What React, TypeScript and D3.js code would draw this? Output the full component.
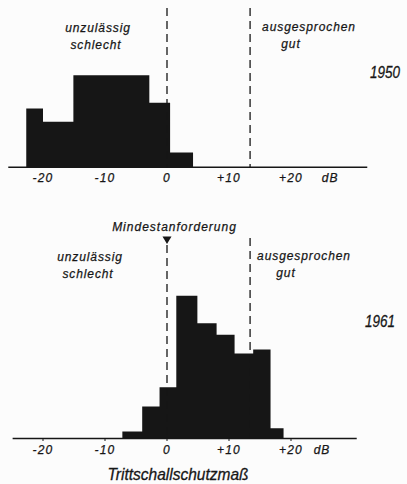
import React from "react";
import * as d3 from "d3";

// 1950 histogram: bin edges (dB) and share of cases (%)
const edges1950 = [-22.7, -20, -15.1, -2.85, 0.5, 4.2];
const values1950 = [9.2, 7.1, 14.4, 10.1, 2.3];

// 1961 histogram
const edges1961 = [-7.2, -4.0, -1.2, 1.5, 4.9, 8.0, 10.9, 13.9, 16.7, 18.8];
const values1961 = [1.1, 5.0, 8.0, 22.3, 18.0, 16.2, 13.3, 13.9, 1.6];

const tickValues = [-20, -10, 0, 10, 20];
const tickLabels = ["-20", "-10", "0", "+10", "+20"];
const unitLabel = "dB";
const minLine = 0; // Mindestanforderung
const goodLine = 13.4; // ausgesprochen gut

const W = 407;
const H = 484;
const FONT = "'Liberation Sans', Arial, sans-serif";
const INK = "#161616";

type PanelProps = {
  edges: number[];
  values: number[];
  baseY: number;
  axisFrom: number;
  axisTo: number;
  lineTop0: number;
  lineTop1: number;
  year: string;
  yearX: number;
  yearY: number;
  textLeftX: number;
  textRightX: number;
  textY: number;
  tickY: number;
  dBX: number;
  showTicks: boolean;
};

const x = d3.scaleLinear().domain([-20, 20]).range([43, 291]);

function Panel(p: PanelProps) {
  const y = d3.scaleLinear().domain([0, 25]).range([p.baseY, p.baseY - 160]);
  const pts: [number, number][] = p.edges.map((e, i) => [e, i < p.values.length ? p.values[i] : p.values[p.values.length - 1]]);
  const area = d3
    .area<[number, number]>()
    .x((d) => x(d[0]))
    .y0(y(0))
    .y1((d) => y(d[1]))
    .curve(d3.curveStepAfter);
  const lbl = {
    fontFamily: FONT,
    fontStyle: "italic",
    fontSize: 12,
    letterSpacing: 0.9,
    fill: INK,
    stroke: INK,
    strokeWidth: 0.25,
  } as const;
  return (
    <g>
      <path d={area(pts) || ""} fill={INK} />
      <line x1={x(p.axisFrom)} x2={x(p.axisTo)} y1={p.baseY} y2={p.baseY} stroke={INK} strokeWidth={1.6} />
      {p.showTicks &&
        tickValues.map((t) => (
          <line key={t} x1={x(t)} x2={x(t)} y1={p.baseY} y2={p.baseY + 2.5} stroke={INK} strokeWidth={1} />
        ))}
      <line x1={x(minLine)} x2={x(minLine)} y1={p.lineTop0} y2={p.baseY} stroke={INK} strokeWidth={1.3} strokeDasharray="8,5" />
      <line x1={x(goodLine)} x2={x(goodLine)} y1={p.lineTop1} y2={p.baseY} stroke={INK} strokeWidth={1.3} strokeDasharray="8,5" />
      {tickValues.map((t, i) => (
        <text key={t} x={x(t)} y={p.tickY} textAnchor="middle" {...lbl} letterSpacing={1.2}>
          {tickLabels[i]}
        </text>
      ))}
      <text x={x(p.dBX)} y={p.tickY} textAnchor="middle" {...lbl}>
        {unitLabel}
      </text>
      <text x={p.textLeftX} y={p.textY} textAnchor="middle" {...lbl}>unzulässig</text>
      <text x={p.textLeftX - 2} y={p.textY + 17} textAnchor="middle" {...lbl}>schlecht</text>
      <text x={p.textRightX} y={p.textY - 1} textAnchor="middle" {...lbl}>ausgesprochen</text>
      <text x={p.textRightX - 18} y={p.textY + 16} textAnchor="middle" {...lbl}>gut</text>
      <text
        x={p.yearX}
        y={p.yearY}
        textAnchor="middle"
        fontFamily={FONT}
        fontStyle="italic"
        fontSize={17}
        textLength={30}
        lengthAdjust="spacingAndGlyphs"
        fill={INK}
        stroke={INK}
        strokeWidth={0.3}
      >
        {p.year}
      </text>
    </g>
  );
}

export default function App() {
  const triX = x(minLine);
  return (
    <svg width={W} height={H} style={{ position: "absolute", left: 0, top: 0, background: "#fcfcfc" }}>
      <Panel
        edges={edges1950}
        values={values1950}
        baseY={167.3}
        axisFrom={-25.6}
        axisTo={32.3}
        lineTop0={8}
        lineTop1={8}
        year="1950"
        yearX={385}
        yearY={78}
        textLeftX={98}
        textRightX={309}
        textY={32}
        tickY={182}
        dBX={26.3}
        showTicks={false}
      />
      <Panel
        edges={edges1961}
        values={values1961}
        baseY={438.5}
        axisFrom={-24.9}
        axisTo={30.6}
        lineTop0={245}
        lineTop1={238}
        year="1961"
        yearX={380}
        yearY={327}
        textLeftX={90}
        textRightX={304}
        textY={261}
        tickY={454}
        dBX={25}
        showTicks={true}
      />
      <path d={`M${triX - 4.5},236.5 L${triX + 4.5},236.5 L${triX},244 Z`} fill={INK} />
      <text
        x={174.5}
        y={230.5}
        textAnchor="middle"
        fontFamily={FONT}
        fontStyle="italic"
        fontSize={12}
        letterSpacing={1}
        fill={INK}
        stroke={INK}
        strokeWidth={0.25}
      >
        Mindestanforderung
      </text>
      <text
        x={178}
        y={480}
        textAnchor="middle"
        fontFamily={FONT}
        fontStyle="italic"
        fontSize={17}
        textLength={141}
        lengthAdjust="spacingAndGlyphs"
        fill={INK}
        stroke={INK}
        strokeWidth={0.3}
      >
        Trittschallschutzmaß
      </text>
    </svg>
  );
}
